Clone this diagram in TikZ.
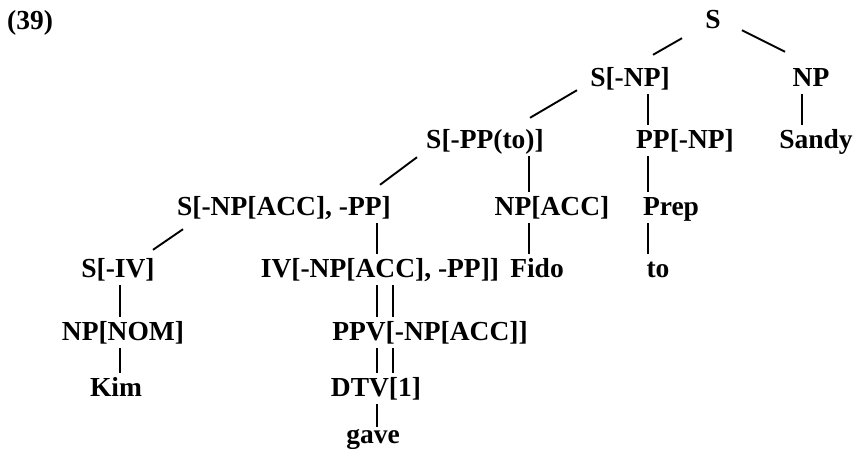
\documentclass[tikz,border=0pt]{standalone}
\usepackage{fontspec}
\setmainfont{Liberation Serif}
\usetikzlibrary{positioning}
\tikzset{
cat/.style={font=\bfseries\fontsize{27.5}{30}\selectfont, text height=19pt, text depth=6pt, inner sep=1pt},
branch/.style={line width=1.9pt},
stem/.style={branch, shorten <=1pt, shorten >=3pt}
}

\begin{document}
\begin{tikzpicture}[x=1pt, y=-1pt, on grid]
        \useasboundingbox (0,0) rectangle (861,448);
        \node[cat, anchor=base] (ex) at (30,29) {(39)};
        \node[cat, anchor=base] (s) at (713,28) {S};
        \node[cat, below left=58pt and 83pt of s] (snp) {S[-NP]};
        \node[cat, below right=58pt and 98pt of s] (np) {NP};
        \node[cat, below left=62pt and 145pt of snp] (sppto) {S[-PP(to)]};
        \node[cat, below right=62pt and 55pt of snp] (ppnp) {PP[-NP]};
        \node[cat, below right=62pt and 5pt of np] (sandy) {Sandy};
        \node[cat, below left=67pt and 201pt of sppto] (snpacc) {S[-NP[ACC], -PP]};
        \node[cat, below right=67pt and 67pt of sppto] (npacc) {NP[ACC]};
        \node[cat, below left=67pt and 14pt of ppnp] (prep) {Prep};
        \node[cat, below left=62pt and 166pt of snpacc] (siv) {S[-IV]};
        \node[cat, below right=62pt and 96pt of snpacc] (iv) {IV[-NP[ACC], -PP]]};
        \node[cat, below left=62pt and 15pt of npacc] (fido) {Fido};
        \node[cat, below left=62pt and 13pt of prep] (pto) {to};
        \node[cat, below right=63pt and 5pt of siv] (npnom) {NP[NOM]};
        \node[cat, below right=63pt and 50pt of iv] (ppv) {PPV[-NP[ACC]]};
        \node[cat, below left=56pt and 7pt of npnom] (kim) {Kim};
        \node[cat, below left=56pt and 54pt of ppv] (dtv) {DTV[1]};
        \node[cat, below left=47pt and 3pt of dtv] (gave) {gave};

        % columns for the vertical stems
        \coordinate (ckim) at (120,0);
        \coordinate (cv) at (377,0);
        \coordinate (cw) at (393,0);
        \coordinate (cnp) at (529,0);
        \coordinate (cpp) at (648,0);
        \coordinate (csandy) at (802,0);

        \draw[branch] ([shift={(-31,3)}]s.south) -- ([shift={(23,-11)}]snp.north);
        \draw[branch] ([shift={(29,-5)}]s.south) -- ([shift={(-26,-14)}]np.north);
        \draw[branch] ([shift={(-53,-3)}]snp.south) -- ([shift={(45,-10)}]sppto.north);
        \draw[branch] ([shift={(-68,2)}]sppto.south) -- ([shift={(96,-10)}]snpacc.north);
        \draw[branch] ([shift={(-101,7)}]snpacc.south) -- ([shift={(35,-7)}]siv.north);

        \draw[stem] (np.south -| csandy) -- (sandy.north -| csandy);
        \draw[stem] (snp.south -| cpp) -- (ppnp.north -| cpp);
        \draw[stem] (ppnp.south -| cpp) -- (prep.north -| cpp);
        \draw[stem] (prep.south -| cpp) -- (pto.north -| cpp);
        \draw[stem] (sppto.south -| cnp) -- (npacc.north -| cnp);
        \draw[stem] (npacc.south -| cnp) -- (fido.north -| cnp);
        \draw[stem] (snpacc.south -| cv) -- (iv.north -| cv);
        \draw[stem] (iv.south -| cv) -- (ppv.north -| cv);
        \draw[stem] (iv.south -| cw) -- (ppv.north -| cw);
        \draw[stem] (ppv.south -| cv) -- (dtv.north -| cv);
        \draw[stem] (ppv.south -| cw) -- (dtv.north -| cw);
        \draw[stem, shorten >=-4pt] (dtv.south -| cv) -- (gave.north -| cv);
        \draw[stem] (siv.south -| ckim) -- (npnom.north -| ckim);
        \draw[stem] (npnom.south -| ckim) -- (kim.north -| ckim);
\end{tikzpicture}
\end{document}
